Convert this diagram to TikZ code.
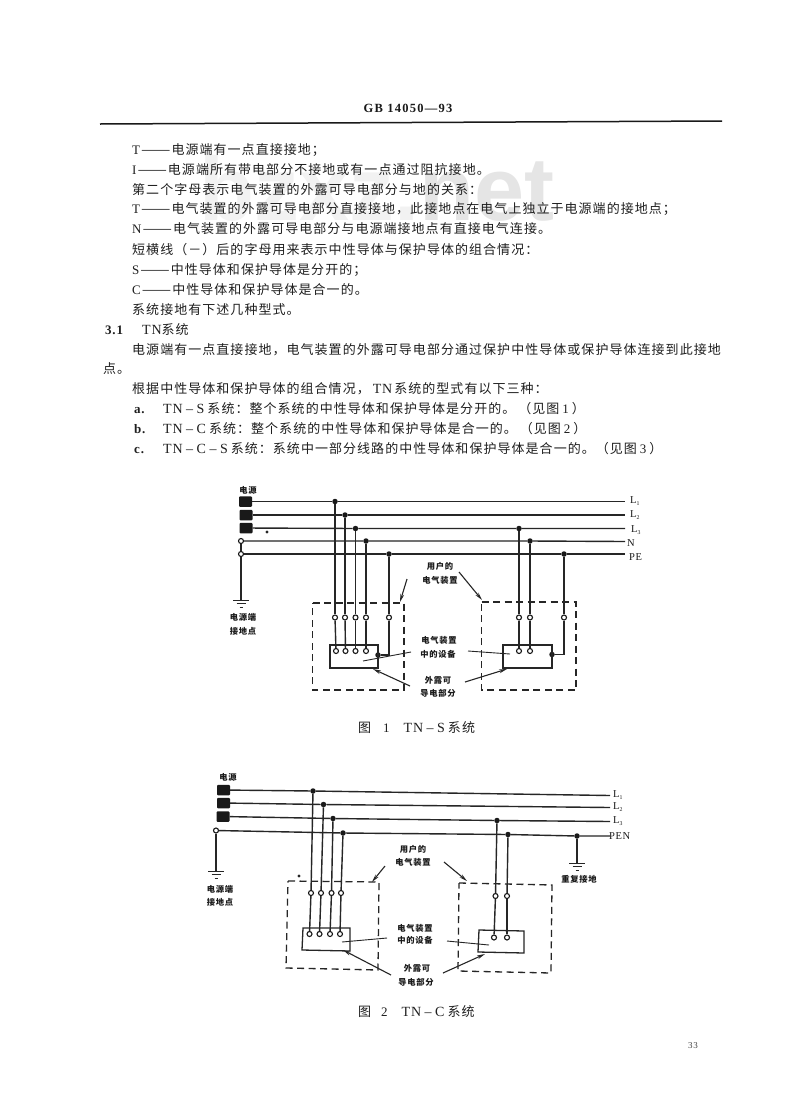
\documentclass[tikz,border=0pt]{standalone}
\usepackage{fontspec}
\setmainfont{Noto Sans CJK SC}[LetterSpace=8]
\newfontfamily\lat{Liberation Serif}[LetterSpace=6]
\newfontfamily\wm{Liberation Sans}
\usetikzlibrary{arrows.meta}
\newcommand{\dd}{\hspace{1bp}\scalebox{1.35}[1]{——}\hspace{1bp}}
\newcommand{\hh}{\hspace{3.5bp}–\hspace{3.5bp}}
\newcommand{\tnx}[1]{{\lat\fontsize{14bp}{15bp}\selectfont #1}}
\tikzset{
  x=1bp,y=-1bp,
  body/.style={anchor=west,inner sep=0pt,text height=11bp,text depth=2.5bp,text=black!88,font=\fontsize{13bp}{15bp}\selectfont},
  lab/.style={inner sep=0pt,text=black!90,font=\fontsize{8.3bp}{10bp}\selectfont\bfseries},
  wlab/.style={anchor=west,inner sep=0pt,text=black!90,font=\fontsize{10.5bp}{12bp}\selectfont\lat},
  wire/.style={line width=1.4bp,black!85},
  coil/.style={fill=black!90,rounded corners=1bp,minimum width=13bp,minimum height=10.5bp,inner sep=0pt},
  jdot/.style={circle,fill=black!90,minimum size=5.5bp,inner sep=0pt},
  ocirc/.style={circle,draw=black!90,fill=white,line width=1.1bp,minimum size=5bp,inner sep=0pt},
  dashbox/.style={line width=1.3bp,black!85,dash pattern=on 7bp off 4.5bp},
  devbox/.style={line width=1.3bp,black!85},
  leader/.style={line width=.9bp,black!85},
  arrowline/.style={line width=1.1bp,black!85,-{Stealth[length=8bp,width=3.8bp]}},
  gnd/.pic={\draw[line width=1bp,black!85] (-8,0)--(8,0) (-4.5,3.5)--(4.5,3.5) (-1.5,7)--(1.5,7);}
}
\begin{document}
\begin{tikzpicture}
\useasboundingbox (0,0) rectangle (800,1102);
\fill[white] (0,0) rectangle (800,1102);
% watermark
\node[inner sep=0pt,anchor=west,text=black!10] (wmk) at (199,188) {\wm\bfseries\fontsize{90bp}{92bp}\selectfont{\color{black!5}bzxz.}net};
% header
\node[inner sep=0pt,text=black!90] (hdr) at (408,108) {\lat\bfseries\fontsize{12.5bp}{14bp}\selectfont\addfontfeature{LetterSpace=10}GB 14050—93};
\coordinate (ruleL) at (100,124); \coordinate (ruleR) at (722,121);
\draw[line width=1.5bp,black!90] (ruleL) -- (ruleR);
% body text
\node[body] (t1) at (132,150) {{\lat T}\dd 电源端有一点直接接地；};
\node[body] (t2) at (132,170) {{\lat I}\dd 电源端所有带电部分不接地或有一点通过阻抗接地。};
\node[body] (t3) at (132,190) {第二个字母表示电气装置的外露可导电部分与地的关系：};
\node[body] (t4) at (132,209) {{\lat T}\dd 电气装置的外露可导电部分直接接地，此接地点在电气上独立于电源端的接地点；};
\node[body] (t5) at (132,229) {{\lat N}\dd 电气装置的外露可导电部分与电源端接地点有直接电气连接。};
\node[body] (t6) at (132,250) {短横线（－）后的字母用来表示中性导体与保护导体的组合情况：};
\node[body] (t7) at (132,270) {{\lat S}\dd 中性导体和保护导体是分开的；};
\node[body] (t8) at (132,290) {{\lat C}\dd 中性导体和保护导体是合一的。};
\node[body] (t9) at (132,310) {系统接地有下述几种型式。};
\node[body] (t10a) at (105,330) {\lat\bfseries 3.1};
\node[body] (t10b) at (142,330) {\tnx{TN}系统};
\node[body] (t11) at (132,350) {电源端有一点直接接地，电气装置的外露可导电部分通过保护中性导体或保护导体连接到此接地};
\node[body] (t12) at (103,369) {点。};
\node[body] (t13) at (132,389) {根据中性导体和保护导体的组合情况，\hspace{3bp}\tnx{TN}\hspace{2bp}系统的型式有以下三种：};
\node[body] (t14a) at (134,409) {\lat\bfseries a.};
\node[body] (t14b) at (163,409) {\tnx{TN\hh S}\hspace{3bp}系统：整个系统的中性导体和保护导体是分开的。\hspace{3bp}（见图\hspace{3bp}{\lat 1}\hspace{3bp}）};
\node[body] (t15a) at (134,429) {\lat\bfseries b.};
\node[body] (t15b) at (163,429) {\tnx{TN\hh C}\hspace{3bp}系统：整个系统的中性导体和保护导体是合一的。\hspace{3bp}（见图\hspace{3bp}{\lat 2}\hspace{3bp}）};
\node[body] (t16a) at (134,449) {\lat\bfseries c.};
\node[body] (t16b) at (163,449) {\tnx{TN\hh C\hh S}\hspace{3bp}系统：系统中一部分线路的中性导体和保护导体是合一的。（见图\hspace{3bp}{\lat 3}\hspace{3bp}）};
% ===== Figure 1
\node[lab] (p1) at (248,490) {电源};
\node[coil] (c1) at (245.5,501.5) {};
\node[coil] (c2) at (246,515) {};
\node[coil] (c3) at (246,528) {};
\node[ocirc] (sn) at (241,541) {};
\node[ocirc] (spe) at (241,554) {};
\foreach \n/\x/\y in {a1/335/501.5,a2/345/515,a3/355.5/528.5,a4/366/541,a5/389/554,b1/519/528.5,b2/530/541,b3/564/554}
  \node[jdot] (\n) at (\x,\y) {};
\foreach \n/\x in {o1/335,o2/345,o3/355.5,o4/366,o5/389,q1/519,q2/530,q3/564}
  \node[ocirc] (\n) at (\x,617.5) {};
\foreach \n/\x in {d1/336,d2/345.5,d3/355.5,d4/366,g1/519,g2/530}
  \node[ocirc] (\n) at (\x,651) {};
\node[jdot] (d5) at (378,655) {};
\node[jdot] (g3) at (552,654.5) {};
\coordinate (e1) at (625,501.5); \coordinate (e2) at (625,515); \coordinate (e3) at (625,528.5);
\coordinate (e4) at (625,541.5); \coordinate (e5) at (625,554);
\draw[wire] (c1) -- (a1) -- (e1);
\draw[wire] (c2) -- (a2) -- (e2);
\draw[wire] (c3) -- (a3) -- (b1) -- (e3);
\draw[wire] (sn) -- (a4) -- (b2) -- (e4);
\draw[wire] (spe) -- (a5) -- (b3) -- (e5);
\draw[wire] (sn) -- (spe);
\coordinate (g0) at (241,600);
\draw[wire] (spe) -- (g0);
\pic at (g0) {gnd};
\node[lab] (p2) at (243,617) {电源端};
\node[lab] (p3) at (243,631) {接地点};
\node[wlab] (la1) at (630,501) {L\raisebox{-.3ex}{\scalebox{.55}{1}}};
\node[wlab] (la2) at (630,515) {L\raisebox{-.3ex}{\scalebox{.55}{2}}};
\node[wlab] (la3) at (631,530) {L\raisebox{-.3ex}{\scalebox{.55}{3}}};
\node[wlab] (la4) at (627,543) {N};
\node[wlab] (la5) at (629,557) {PE};
\foreach \a/\b in {a1/o1,o1/d1,a2/o2,o2/d2,a3/o3,o3/d3,a4/o4,o4/d4,a5/o5,b1/q1,q1/g1,b2/q2,q2/g2,b3/q3}
  \draw[wire] (\a) -- (\b);
\coordinate (k1) at (389,655); \coordinate (k2) at (564,654.5);
\draw[wire] (o5) -- (k1) -- (d5);
\draw[wire] (q3) -- (k2) -- (g3);
\draw[dashbox] (312.5,603) -- (404,603) -- (404,690) -- (312.5,690) -- cycle;
\draw[dashbox] (481.5,602) -- (576,602) -- (576,690) -- (481.5,690) -- cycle;
\draw[devbox] (330,645) rectangle (378,668);
\draw[devbox] (503,645) rectangle (552,668);
\node[lab] (u1) at (440,566) {用户的};
\node[lab] (u2) at (440,580) {电气装置};
\node[lab] (u3) at (439,640) {电气装置};
\node[lab] (u4) at (438,654) {中的设备};
\node[lab] (u5) at (438,680) {外露可};
\node[lab] (u6) at (438,693.5) {导电部分};
\coordinate (ar1s) at (407,579); \coordinate (ar1e) at (400,602);
\coordinate (ar2s) at (459,572); \coordinate (ar2e) at (482,600);
\coordinate (ar3s) at (410,686); \coordinate (ar3e) at (373,669);
\coordinate (ar4s) at (465,682); \coordinate (ar4e) at (507,669);
\coordinate (le1s) at (411,652); \coordinate (le1e) at (363,661);
\coordinate (le2s) at (468,651); \coordinate (le2e) at (510,654);
\draw[arrowline] (ar1s) -- (ar1e);
\draw[arrowline] (ar2s) -- (ar2e);
\draw[arrowline] (ar3s) -- (ar3e);
\draw[arrowline] (ar4s) -- (ar4e);
\draw[leader] (le1s) -- (le1e);
\draw[leader] (le2s) -- (le2e);
\fill[black!85] (267,532) circle (1.6bp);
\node[body] (cap1) at (358,728) {图\hspace{12bp}{\lat 1}\hspace{14bp}\tnx{TN\hh S}\hspace{3bp}系统};
% ===== Figure 2
\node[lab] (r1) at (228,777) {电源};
\node[coil] (m1) at (223.5,790) {};
\node[coil] (m2) at (223.5,803) {};
\node[coil] (m3) at (223,816.5) {};
\node[ocirc] (mn) at (216,830.5) {};
\foreach \n/\x/\y in {w1/313/791,w2/323.5/804.5,w3/333/818.5,w4/343/833,z1/497/820.5,z2/508/834.5,z3/577/836}
  \node[jdot] (\n) at (\x,\y) {};
\foreach \n/\x/\y in {v1/311/893,v2/321/893,v3/331.5/893,v4/341/893,y1/495.5/896,y2/507/896,s1/309.5/934,s2/319.5/934,s3/330/934,s4/340/934,x1/494/937.5,x2/507/937.5}
  \node[ocirc] (\n) at (\x,\y) {};
\coordinate (f1) at (610,795.5); \coordinate (f2) at (610,807.5); \coordinate (f3) at (610,821.5); \coordinate (f4) at (610,836);
\draw[wire] (m1) -- (w1) -- (f1);
\draw[wire] (m2) -- (w2) -- (f2);
\draw[wire] (m3) -- (w3) -- (z1) -- (f3);
\draw[wire] (mn) -- (w4) -- (z2) -- (z3) -- (f4);
\coordinate (h0) at (216,871);
\draw[wire] (mn) -- (h0);
\pic at (h0) {gnd};
\coordinate (h1) at (577,863);
\draw[wire] (z3) -- (h1);
\pic at (h1) {gnd};
\node[lab] (r2) at (220,889) {电源端};
\node[lab] (r3) at (220,902) {接地点};
\node[lab] (r4) at (579,879) {重复接地};
\node[wlab] (lb1) at (613,795) {L\raisebox{-.3ex}{\scalebox{.55}{1}}};
\node[wlab] (lb2) at (613,807) {L\raisebox{-.3ex}{\scalebox{.55}{2}}};
\node[wlab] (lb3) at (613,821) {L\raisebox{-.3ex}{\scalebox{.55}{3}}};
\node[wlab] (lb4) at (609,836) {PEN};
\foreach \a/\b in {w1/v1,v1/s1,w2/v2,v2/s2,w3/v3,v3/s3,w4/v4,v4/s4,z1/y1,y1/x1,z2/y2,y2/x2}
  \draw[wire] (\a) -- (\b);
\draw[dashbox] (288,881) -- (379,882) -- (378,970) -- (286,968) -- cycle;
\draw[dashbox] (459,883) -- (552,885) -- (551,973) -- (458,971) -- cycle;
\draw[devbox] (303,928) -- (350,928) -- (350,951) -- (302,950) -- cycle;
\draw[devbox] (479,930) -- (524,931) -- (524,953) -- (478,952) -- cycle;
\node[lab] (n1) at (413,849) {用户的};
\node[lab] (n2) at (413,862) {电气装置};
\node[lab] (n3) at (415,928) {电气装置};
\node[lab] (n4) at (415,940) {中的设备};
\node[lab] (n5) at (417,968) {外露可};
\node[lab] (n6) at (416,982) {导电部分};
\coordinate (br1s) at (385,866); \coordinate (br1e) at (372,882);
\coordinate (br2s) at (444,862); \coordinate (br2e) at (467,881);
\coordinate (br3s) at (391,975); \coordinate (br3e) at (343,950);
\coordinate (br4s) at (443,973); \coordinate (br4e) at (485,954);
\coordinate (me1s) at (387,938); \coordinate (me1e) at (342,942);
\coordinate (me2s) at (447,941); \coordinate (me2e) at (489,945);
\draw[arrowline] (br1s) -- (br1e);
\draw[arrowline] (br2s) -- (br2e);
\draw[arrowline] (br3s) -- (br3e);
\draw[arrowline] (br4s) -- (br4e);
\draw[leader] (me1s) -- (me1e);
\draw[leader] (me2s) -- (me2e);
\fill[black!85] (299,876) circle (1.6bp);
\node[body] (cap2) at (358,1012) {图\hspace{10bp}{\lat 2}\hspace{14bp}\tnx{TN\hh C}\hspace{3bp}系统};
\node[inner sep=0pt,text=black!75] (pg) at (693,1046) {\lat\fontsize{9bp}{11bp}\selectfont 33};
\end{tikzpicture}
\end{document}
